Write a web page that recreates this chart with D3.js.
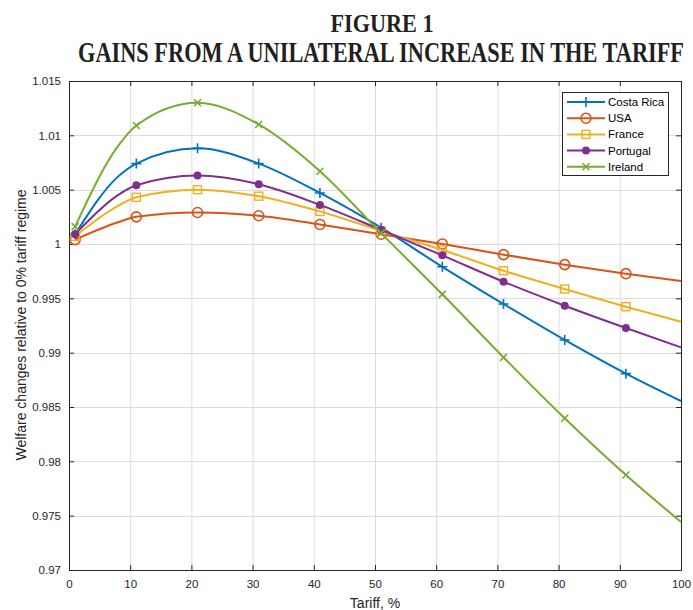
<!DOCTYPE html>
<html lang="en">

<head>
  <meta charset="utf-8">
  <title>Gains from a unilateral increase in the tariff</title>
  <script src="https://d3js.org/d3.v7.min.js"></script>
  <style>
    body { margin: 0; background: #fff; }
    text { font-family: "Liberation Sans", Arial, sans-serif; }
  </style>
</head>

<body>
  <svg width="693" height="610"></svg>
  <script>
    // tariff levels (%); markers sit on every 10th from 1
    const tariff = [1, 8, 11, 21, 31, 41, 51, 61, 71, 81, 91, 100];
    const markerTariff = [1, 11, 21, 31, 41, 51, 61, 71, 81, 91];

    const costaRica = [1.0009, 1.0062, 1.0074, 1.0088, 1.0074, 1.0047, 1.0015, 0.9979, 0.99448, 0.99117, 0.98807, 0.98555];
    const usa = [1.0004, 1.0020, 1.0025, 1.0029, 1.0026, 1.0018, 1.0009, 1.0000, 0.99902, 0.9981, 0.99727, 0.9966];
    const france = [1.0007, 1.0035, 1.0043, 1.0050, 1.0044, 1.0030, 1.0012, 0.99945, 0.99754, 0.99586, 0.99423, 0.99285];
    const portugal = [1.0009, 1.0045, 1.0054, 1.0063, 1.0055, 1.0036, 1.0013, 0.99896, 0.99653, 0.99432, 0.99227, 0.99049];
    const ireland = [1.0016, 1.0090, 1.0109, 1.0130, 1.0110, 1.0067, 1.0010, 0.99537, 0.98957, 0.98396, 0.97874, 0.97442];

    const xTicks = [0, 10, 20, 30, 40, 50, 60, 70, 80, 90, 100];
    const yTicks = [0.97, 0.975, 0.98, 0.985, 0.99, 0.995, 1, 1.005, 1.01, 1.015];

    const series = [
      { name: "Costa Rica", values: costaRica, color: "#0072BD", marker: "plus" },
      { name: "USA", values: usa, color: "#D95319", marker: "circle" },
      { name: "France", values: france, color: "#EDB120", marker: "square" },
      { name: "Portugal", values: portugal, color: "#7E2F8E", marker: "dot" },
      { name: "Ireland", values: ireland, color: "#77AC30", marker: "cross" }
    ];

    const svg = d3.select("svg");
    const plotLeft = 69, plotRight = 681, plotTop = 81, plotBottom = 570;
    const axisColor = "#262626";

    const x = d3.scaleLinear().domain([0, 100]).range([plotLeft, plotRight]);
    const y = d3.scaleLinear().domain([0.97, 1.015]).range([plotBottom, plotTop]);

    // title: condensed serif, done by stretching a smaller font upward
    const serif = "'Liberation Serif', 'DejaVu Serif', serif";
    svg.append("text")
      .attr("transform", "translate(382,31.5) scale(1,1.32)")
      .attr("text-anchor", "middle")
      .attr("textLength", 103).attr("lengthAdjust", "spacingAndGlyphs")
      .style("font-family", serif)
      .style("font-weight", "bold").style("font-size", "19px").attr("fill", "#231f20")
      .text("FIGURE 1");
    svg.append("text")
      .attr("transform", "translate(78,61.5) scale(1,1.36)")
      .attr("textLength", 606).attr("lengthAdjust", "spacingAndGlyphs")
      .style("font-family", serif)
      .style("font-weight", "bold").style("font-size", "21px").attr("fill", "#231f20")
      .text("GAINS FROM A UNILATERAL INCREASE IN THE TARIFF");

    // grid
    const grid = svg.append("g").attr("stroke", "#dcdcdc").attr("stroke-width", 1);
    grid.selectAll(".gx").data(xTicks.slice(1, -1)).join("line")
      .attr("x1", d => x(d) + 0.5).attr("x2", d => x(d) + 0.5)
      .attr("y1", plotTop).attr("y2", plotBottom);
    grid.selectAll(".gy").data(yTicks.slice(1, -1)).join("line")
      .attr("x1", plotLeft).attr("x2", plotRight)
      .attr("y1", d => Math.round(y(d)) + 0.5).attr("y2", d => Math.round(y(d)) + 0.5);

    // axes, ticks pointing inward on all sides like the MATLAB box
    const tickFmt = d3.format("");
    svg.append("g").attr("transform", `translate(0,${plotBottom})`)
      .call(d3.axisBottom(x).tickValues(xTicks).tickSizeInner(-5).tickSizeOuter(0).tickPadding(10).tickFormat(tickFmt));
    svg.append("g").attr("transform", `translate(0,${plotTop})`)
      .call(d3.axisTop(x).tickValues(xTicks).tickSizeInner(-5).tickSizeOuter(0).tickFormat(""));
    svg.append("g").attr("transform", `translate(${plotLeft},0)`)
      .call(d3.axisLeft(y).tickValues(yTicks).tickSizeInner(-5).tickSizeOuter(0).tickPadding(8).tickFormat(tickFmt));
    svg.append("g").attr("transform", `translate(${plotRight},0)`)
      .call(d3.axisRight(y).tickValues(yTicks).tickSizeInner(-5).tickSizeOuter(0).tickFormat(""));

    svg.selectAll(".domain, .tick line").attr("stroke", axisColor);
    svg.selectAll(".tick text").attr("fill", axisColor).style("font-size", "11.5px")
      .style("font-family", "'Liberation Sans', Arial, sans-serif");

    // axis labels
    svg.append("text")
      .attr("x", x(50)).attr("y", 608)
      .attr("text-anchor", "middle").attr("fill", axisColor)
      .style("font-size", "14px")
      .text("Tariff, %");
    svg.append("text")
      .attr("transform", "translate(26,325) rotate(-90)")
      .attr("text-anchor", "middle").attr("fill", axisColor)
      .style("font-size", "14px")
      .text("Welfare changes relative to 0% tariff regime");

    // lines
    const line = d3.line()
      .x(d => x(d[0])).y(d => y(d[1]))
      .curve(d3.curveMonotoneX);

    function drawMarker(g, kind, color) {
      if (kind === "plus") {
        g.append("path").attr("d", "M-5,0H5M0,-5V5").attr("stroke", color).attr("stroke-width", 1.6).attr("fill", "none");
      } else if (kind === "circle") {
        g.append("circle").attr("r", 5).attr("stroke", color).attr("stroke-width", 1.6).attr("fill", "none");
      } else if (kind === "square") {
        g.append("rect").attr("x", -4).attr("y", -4).attr("width", 8).attr("height", 8)
          .attr("stroke", color).attr("stroke-width", 1.4).attr("fill", "none");
      } else if (kind === "dot") {
        g.append("circle").attr("r", 4).attr("fill", color);
      } else if (kind === "cross") {
        g.append("path").attr("d", "M-3.5,-3.5L3.5,3.5M-3.5,3.5L3.5,-3.5").attr("stroke", color).attr("stroke-width", 1.6).attr("fill", "none");
      }
    }

    series.forEach(s => {
      const pts = tariff.map((t, i) => [t, s.values[i]]);
      svg.append("path")
        .datum(pts)
        .attr("d", line)
        .attr("fill", "none")
        .attr("stroke", s.color)
        .attr("stroke-width", 2);
      pts.filter(p => markerTariff.includes(p[0])).forEach(p => {
        const g = svg.append("g").attr("transform", `translate(${x(p[0])},${y(p[1])})`);
        drawMarker(g, s.marker, s.color);
      });
    });

    // legend
    const legend = svg.append("g");
    legend.append("rect")
      .attr("x", 562.5).attr("y", 92.5).attr("width", 106).attr("height", 83)
      .attr("fill", "#fff").attr("stroke", axisColor).attr("stroke-width", 1);
    series.forEach((s, i) => {
      const ly = 102 + i * 16.2;
      legend.append("line")
        .attr("x1", 567).attr("x2", 605).attr("y1", ly).attr("y2", ly)
        .attr("stroke", s.color).attr("stroke-width", 2);
      drawMarker(legend.append("g").attr("transform", `translate(586,${ly})`), s.marker, s.color);
      legend.append("text")
        .attr("x", 608).attr("y", ly + 4)
        .attr("fill", "#000").style("font-size", "11.5px")
        .text(s.name);
    });
  </script>
</body>

</html>
